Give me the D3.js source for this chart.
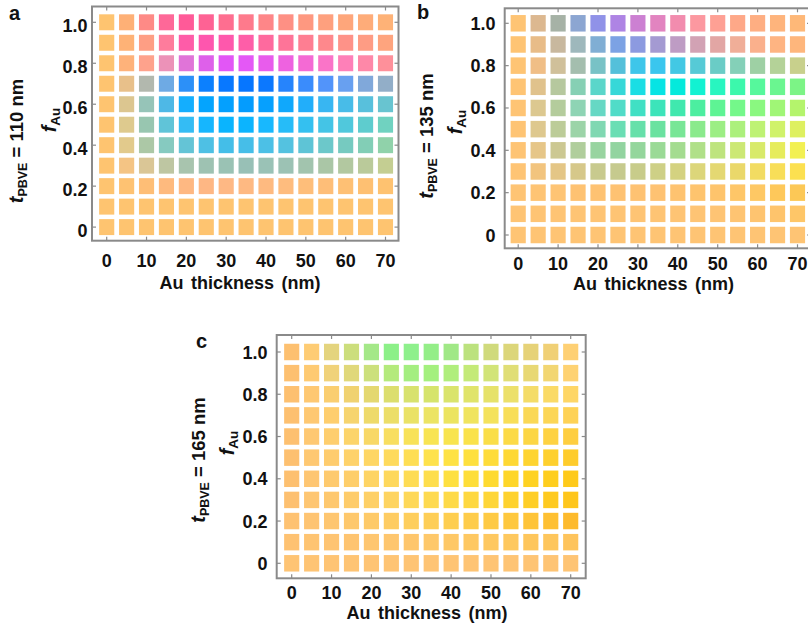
<!DOCTYPE html>
<html>
<head>
<meta charset="utf-8">
<script src="https://cdn.jsdelivr.net/npm/d3@7"></script>
<style>
  body { margin: 0; background: #fff; }
  svg { display: block; font-family: "Liberation Sans", Arial, sans-serif; }
</style>
</head>
<body>
<svg id="chart" width="808" height="627"></svg>
<script>
// Au layer thickness (nm) for each column of cells
const thickness = [0, 5, 10, 15, 20, 25, 30, 35, 40, 45, 50, 55, 60, 65, 70];
// Au filling fraction for each row of cells, listed top row first
const fraction = [1.0, 0.9, 0.8, 0.7, 0.6, 0.5, 0.4, 0.3, 0.2, 0.1, 0.0];

const xTicks = [0, 10, 20, 30, 40, 50, 60, 70];
const yTicks = [0, 0.2, 0.4, 0.6, 0.8, 1.0];
const yTickLabels = ["0", "0.2", "0.4", "0.6", "0.8", "1.0"];

const pbveThickness = [110, 135, 165];
const panelLetters = ["a", "b", "c"];

// Structural colour of each cell (rows follow `fraction`, columns follow `thickness`)
const colorsA = [
  ["#FEC470","#FEB076","#FE8A86","#FE6898","#FF5A98","#FE6294","#FE6E90","#FE7A8C","#FE8688","#FE9084","#FE9880","#FEA07E","#FEA67B","#FEAC79","#FEB277"],
  ["#FEC470","#FEB276","#FE9E84","#FE7C9C","#FE5CA8","#FE56AE","#FE58AC","#FE5EA8","#FE6A9E","#FE7498","#FE7E92","#FE888C","#FE9288","#FE9C84","#FEA47E"],
  ["#FEC470","#FEB27A","#FEA28C","#EC92B8","#E074D8","#DE60EA","#E256F6","#E458F6","#E85CEC","#EE62E0","#F46AD4","#FA74C8","#FE80B8","#FE88A8","#FE909A"],
  ["#FEC470","#E8C08A","#B2B8AE","#6EAAE4","#2C90F8","#0C80FE","#0878FF","#0676FF","#0C78FE","#2684FC","#3A8CFC","#5294FA","#68A0F0","#80A8DA","#92AEC8"],
  ["#FEC470","#DCC690","#96C4B8","#4EB8E6","#14AEFE","#04A4FE","#04A0FE","#049CFE","#06A0FE","#10A8FC","#22AEFA","#38B6F2","#48BCE8","#58C0DC","#68C4D0"],
  ["#FEC470","#DECA8E","#98C6B0","#60C4D8","#34BCF4","#16B6FE","#0AB4FE","#0CB4FE","#18B8FE","#26BCF8","#34C0F0","#44C4E6","#50C8DC","#5ECCCE","#70D2C0"],
  ["#FEC470","#E2CA8C","#ACC8A6","#86CAC0","#64C4D6","#4EC0E4","#44BEE8","#46BEE8","#4CC0E6","#54C2E0","#5EC4D6","#6CC8CA","#76CAC0","#82CEB6","#90D2AA"],
  ["#FEC470","#F4C484","#DAC696","#BEC6A2","#A8C4AE","#9EC2B2","#9AC2B4","#98C0B6","#9AC2B6","#9CC2B4","#A2C4AE","#AAC6A6","#B2C8A0","#BACA9A","#C4CE92"],
  ["#FEC470","#FEC272","#FEBE76","#FEBA7E","#FEB882","#FEB784","#FEB884","#FEB982","#FEBA80","#FEBC7E","#FEBE7A","#FEBE78","#FEC074","#FEC072","#FEC270"],
  ["#FEC470","#FEC470","#FEC470","#FEC470","#FEC470","#FEC470","#FEC470","#FEC470","#FEC470","#FEC470","#FEC470","#FEC470","#FEC470","#FEC470","#FEC470"],
  ["#FEC470","#FEC470","#FEC470","#FEC470","#FEC470","#FEC470","#FEC470","#FEC470","#FEC470","#FEC470","#FEC470","#FEC470","#FEC470","#FEC470","#FEC470"]
];

const colorsB = [
  ["#FEC474","#DCB890","#A6B2A6","#8CA6D2","#9092E8","#AE84E4","#CC80D2","#E284C0","#F28CAE","#FC98A0","#FEA094","#FEA888","#FEAE82","#FEB47C","#FEB878"],
  ["#FEC474","#E8BC88","#C8B89E","#9EB8BC","#80AED4","#7CA2E4","#8C9AE0","#A49AD2","#BE9CC4","#D2A2B4","#E2A6A4","#F0AE98","#FAB08C","#FEB482","#FEB67C"],
  ["#FEC474","#F0BE86","#D0C09A","#A4BEAE","#78C2C6","#54C0DA","#3EC6EA","#3AC6EE","#42C8E4","#56CAD6","#6ACCC6","#84D0B8","#9ED0A4","#B4D298","#C8D08C"],
  ["#FEC474","#E0C28C","#B6C89E","#86D0B4","#5AD6CA","#36D8D8","#1ADEE4","#06E4E4","#04EADC","#12F2D2","#28F6C0","#3CF8AC","#56F89C","#6AF690","#7CF486"],
  ["#FEC474","#DCC890","#B4CC9C","#8ED4B4","#66D8C4","#50DCC8","#40E0C4","#3CE4BA","#40E8AE","#4CEEA0","#5EF494","#74F88A","#8AF880","#A0F676","#B4F46C"],
  ["#FEC474","#DEC88E","#BCCC98","#9CD4A8","#80D8B2","#6ADEB4","#66E0AA","#6AE2A0","#78E696","#8AEA8C","#9CEE84","#ACF07C","#BEF274","#D0F26A","#DEF060"],
  ["#FEC474","#E6C688","#CCC892","#B0CE9C","#98D4A0","#92D4A0","#94D69C","#9ADA96","#A4DC90","#B0E088","#BEE47E","#CCE874","#D8EA6A","#E6EC5C","#F2F052"],
  ["#FEC474","#F2C47E","#E4C686","#D6C88A","#C8CA8E","#C6CA8E","#C8CC8A","#CED086","#D4D280","#DCD67A","#E4D872","#EAD86A","#F2DC62","#F8DE58","#FCE050"],
  ["#FEC474","#FEC474","#FEC474","#FEC272","#FEC272","#FEC272","#FEC272","#FEC272","#FEC370","#FEC46E","#FEC46C","#FEC668","#FEC864","#FEC85A","#FCC856"],
  ["#FEC474","#FEC474","#FEC474","#FEC474","#FEC474","#FEC474","#FEC474","#FEC474","#FEC474","#FEC474","#FEC474","#FEC472","#FEC470","#FEC46C","#FEC668"],
  ["#FEC474","#FEC474","#FEC474","#FEC474","#FEC474","#FEC474","#FEC474","#FEC474","#FEC474","#FEC474","#FEC474","#FEC474","#FEC474","#FEC474","#FEC474"]
];

const colorsC = [
  ["#FDC070","#FECC74","#E4D47E","#CCDE7C","#A4E888","#8CF088","#8EF08C","#94EE88","#A0E886","#BCE27E","#D0DA7C","#DCD67A","#E6D278","#F0D076","#FED074"],
  ["#FDC070","#FECA72","#F0D27A","#E0D87A","#CCE07C","#B4EA7C","#A4EE80","#A4F07E","#B0EE7C","#C4EA78","#D2E478","#E0DE76","#E8D874","#F2D672","#FED272"],
  ["#FDC070","#FEC872","#FACE70","#F0D270","#E4D870","#DCDE6E","#D8E26E","#D6E46C","#DAE46C","#E0E46A","#E6E26A","#ECE06A","#F4DC68","#FADA66","#FED666"],
  ["#FDC070","#FEC872","#FECE6E","#F6D46E","#EEDA6A","#ECDE68","#EAE266","#ECE464","#ECE460","#F0E45E","#F4E25C","#F8DE58","#FAD856","#FCD656","#FED256"],
  ["#FDC070","#FEC872","#FECE6E","#FCD46A","#F8D866","#F8DE60","#F8E258","#F8E452","#F8E44E","#FAE24A","#FADE48","#FCDA46","#FCD644","#FED242","#FECE40"],
  ["#FDC070","#FEC872","#FECC6E","#FED26A","#FED664","#FEDA5C","#FEDE54","#FEE24C","#FEE244","#FEE03E","#FEDC3A","#FED834","#FED430","#FED02E","#FECC2C"],
  ["#FDC070","#FEC672","#FECA6E","#FECE6A","#FED464","#FED85C","#FEDC54","#FEDE4C","#FEE040","#FEDE38","#FEDA30","#FED628","#FED222","#FECE1E","#FECA1A"],
  ["#FDC070","#FEC672","#FEC86E","#FECC6A","#FED066","#FED460","#FED858","#FEDA50","#FEDA48","#FED840","#FED638","#FED22E","#FECE26","#FECA20","#FEC61C"],
  ["#FEC272","#FEC472","#FEC670","#FEC86C","#FECA68","#FECC62","#FECE5C","#FECE56","#FECE50","#FECC4A","#FECA44","#FEC83E","#FEC438","#FEC032","#FDBA2C"],
  ["#FEC272","#FEC472","#FEC472","#FEC470","#FEC670","#FEC66E","#FEC66C","#FEC86A","#FEC866","#FEC862","#FEC860","#FEC85E","#FEC65C","#FEC65C","#FEC45C"],
  ["#FEC474","#FEC474","#FEC474","#FEC474","#FEC474","#FEC474","#FEC474","#FEC474","#FEC474","#FEC474","#FEC474","#FEC474","#FEC474","#FEC474","#FEC474"]
];

const panelColors = [colorsA, colorsB, colorsC];

// Placement of each panel on the page
const panels = [
  { x: [106.7, 385.5], y: [227.1, 22.3], frame: [92, 398.5, 6.5, 240.7],
    yLab: 87.5, yLabShift: 3, xLabY: 267, titleX: 240, titleY: 288.5,
    fLab: [56, 120], tLab: [23, 141], letter: [9, 20] },
  { x: [518.2, 797.5], y: [235, 23.3], frame: [504.7, 811, 8.3, 248.3],
    yLab: 495.5, yLabShift: 0, xLabY: 269.5, titleX: 653.5, titleY: 289.5,
    fLab: [462, 122], tLab: [433, 136], letter: [417, 19] },
  { x: [291.7, 570.7], y: [563.3, 352], frame: [276.7, 585.7, 335, 578.3],
    yLab: 267.5, yLabShift: 0, xLabY: 598.5, titleX: 427, titleY: 618.5,
    fLab: [234, 443], tLab: [205, 460], letter: [196, 348] }
];

const svg = d3.select("#chart");
const frameColor = "#8a8a8a";
const ink = "#111";

panels.forEach((p, i) => {
  const x = d3.scaleLinear().domain([0, 70]).range(p.x);
  const y = d3.scaleLinear().domain([0, 1]).range(p.y);
  const xStep = x(5) - x(0);
  const yStep = y(0) - y(0.1);
  const cw = xStep * 0.76;
  const ch = yStep * 0.78;
  const g = svg.append("g");

  // cells
  const cells = [];
  panelColors[i].forEach((row, r) => {
    row.forEach((c, k) => cells.push({ t: thickness[k], f: fraction[r], color: c }));
  });
  g.selectAll("rect.cell").data(cells).join("rect")
    .attr("class", "cell")
    .attr("x", d => x(d.t) - cw / 2)
    .attr("y", d => y(d.f) - ch / 2)
    .attr("width", cw)
    .attr("height", ch)
    .attr("fill", d => d.color);

  // frame
  const [fl, fr, ft, fb] = p.frame;
  g.append("rect")
    .attr("x", fl).attr("y", ft)
    .attr("width", fr - fl).attr("height", fb - ft)
    .attr("fill", "none").attr("stroke", frameColor).attr("stroke-width", 2);

  // inward tick marks on all four sides
  const tl = 4;
  xTicks.forEach(v => {
    g.append("line").attr("x1", x(v)).attr("x2", x(v)).attr("y1", fb).attr("y2", fb - tl)
      .attr("stroke", frameColor).attr("stroke-width", 1.2);
    g.append("line").attr("x1", x(v)).attr("x2", x(v)).attr("y1", ft).attr("y2", ft + tl)
      .attr("stroke", frameColor).attr("stroke-width", 1.2);
  });
  yTicks.forEach(v => {
    g.append("line").attr("x1", fl).attr("x2", fl + tl).attr("y1", y(v)).attr("y2", y(v))
      .attr("stroke", frameColor).attr("stroke-width", 1.2);
    g.append("line").attr("x1", fr).attr("x2", fr - tl).attr("y1", y(v)).attr("y2", y(v))
      .attr("stroke", frameColor).attr("stroke-width", 1.2);
  });

  // tick labels
  g.selectAll("text.xl").data(xTicks).join("text")
    .attr("class", "xl")
    .attr("x", d => x(d)).attr("y", p.xLabY)
    .attr("text-anchor", "middle")
    .attr("font-size", 18).attr("font-weight", "bold").attr("fill", ink)
    .text(d => d);
  g.selectAll("text.yl").data(yTicks).join("text")
    .attr("class", "yl")
    .attr("x", p.yLab).attr("y", d => y(d) + 6.5 + p.yLabShift)
    .attr("text-anchor", "end")
    .attr("font-size", 18).attr("font-weight", "bold").attr("fill", ink)
    .text((d, k) => yTickLabels[k]);

  // axis titles
  g.append("text")
    .attr("x", p.titleX).attr("y", p.titleY)
    .attr("text-anchor", "middle")
    .attr("font-size", 18).attr("font-weight", "bold").attr("fill", ink)
    .attr("word-spacing", 2.5)
    .text("Au thickness (nm)");

  const fl2 = g.append("text")
    .attr("transform", `translate(${p.fLab[0]},${p.fLab[1]}) rotate(-90)`)
    .attr("text-anchor", "middle")
    .attr("font-weight", "bold").attr("fill", ink);
  fl2.append("tspan").attr("font-size", 20).attr("font-style", "italic").text("f");
  fl2.append("tspan").attr("font-size", 13.5).attr("dy", 4).text("Au");

  const tl2 = g.append("text")
    .attr("transform", `translate(${p.tLab[0]},${p.tLab[1]}) rotate(-90)`)
    .attr("text-anchor", "middle")
    .attr("font-weight", "bold").attr("fill", ink);
  tl2.append("tspan").attr("font-size", 20).attr("font-style", "italic").text("t");
  tl2.append("tspan").attr("font-size", 12.5).attr("dy", 4).text("PBVE");
  tl2.append("tspan").attr("font-size", 18.5).attr("dy", -4).text(` = ${pbveThickness[i]} nm`);

  // panel letter
  g.append("text")
    .attr("x", p.letter[0]).attr("y", p.letter[1])
    .attr("font-size", 20).attr("font-weight", "bold").attr("fill", ink)
    .text(panelLetters[i]);
});
</script>
</body>
</html>
